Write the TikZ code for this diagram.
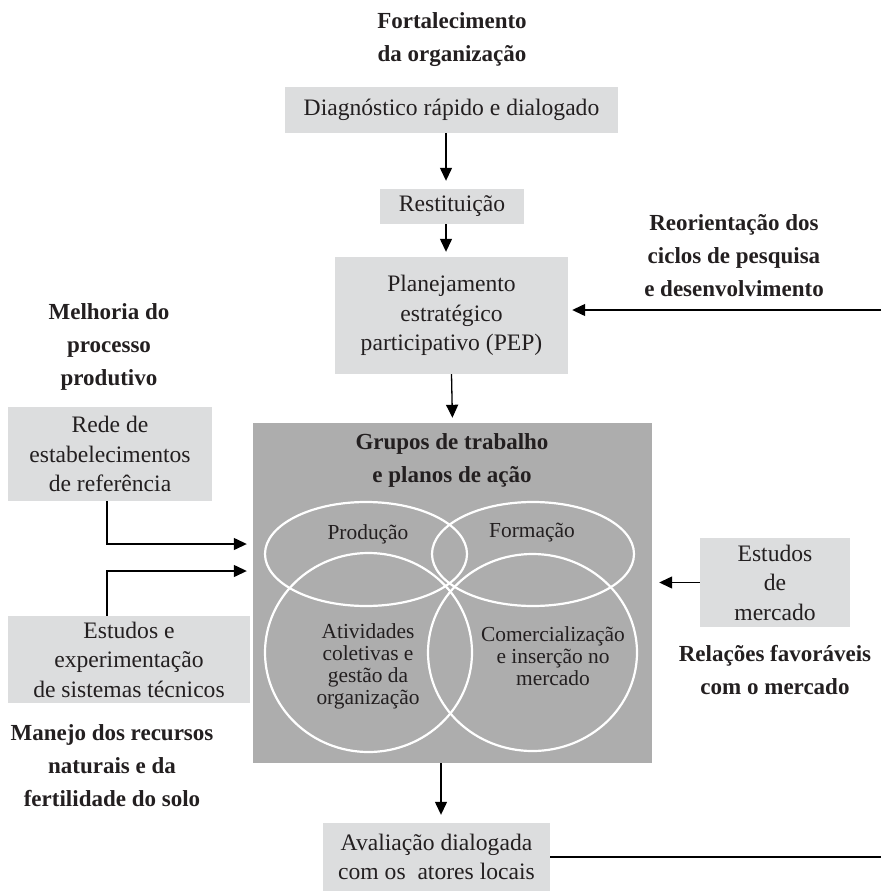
\documentclass[tikz,border=0pt]{standalone}
\usepackage{fontspec}
\setmainfont{Liberation Serif}
\usetikzlibrary{arrows.meta}
\definecolor{lightbox}{HTML}{DCDDDE}
\definecolor{darkbox}{HTML}{ADADAD}
\definecolor{ink}{HTML}{231F20}
\begin{document}
\begin{tikzpicture}[x=1pt,y=-1pt,
  every node/.style={text=ink},
  box/.style={fill=lightbox, inner sep=0pt, align=center, font=\fontsize{23.6}{29.5}\selectfont},
  heading/.style={align=center, inner sep=0pt, font=\fontsize{23}{33}\selectfont\bfseries},
  innertext/.style={align=center, inner sep=0pt, font=\fontsize{21.4}{22}\selectfont},
  conn/.style={draw=black, line width=1.3pt},
  arr/.style={conn, -{Triangle[length=13pt,width=12pt]}},
  ring/.style={draw=white, line width=2.2pt}
]
\useasboundingbox (0,0) rectangle (881,891);

% headings
\node[heading] (fort) at (452,40) {Fortalecimento\\da organização};
\node[heading] (reor) at (734,256) {Reorientação dos\\ciclos de pesquisa\\e desenvolvimento};
\node[heading] (melh) at (109,347) {Melhoria do\\processo\\produtivo};
\node[heading] (manejo) at (112,766) {Manejo dos recursos\\naturais e da\\fertilidade do solo};
\node[heading] (relac) at (775,670) {Relações favoráveis\\com o mercado};

% boxes
\node[box, minimum width=333pt, minimum height=46pt] (diag) at (451.5,110) {Diagnóstico rápido e dialogado};
\node[box, minimum width=144pt, minimum height=35pt] (rest) at (452,206.5) {Restituição};
\node[box, minimum width=233pt, minimum height=117pt] (plan) at (451.5,315.5) {Planejamento\\estratégico\\participativo (PEP)};
\node[fill=darkbox, inner sep=0pt, minimum width=399pt, minimum height=340pt] (grupos) at (452.5,593) {};
\node[box, minimum width=204pt, minimum height=94pt] (rede) at (110,454) {Rede de\\estabelecimentos\\de referência};
\node[box, minimum width=242pt, minimum height=87pt] (estudos) at (129,659.5) {Estudos e\\experimentação\\de sistemas técnicos};
\node[box, minimum width=150pt, minimum height=89pt] (merc) at (775,582.5) {Estudos\\de\\mercado};
\node[box, minimum width=227pt, minimum height=68pt] (aval) at (436.5,857) {Avaliação dialogada\\com os\ \ atores locais};

% inside the big box
\node[heading] (gtitle) at (452,460) {Grupos de trabalho\\e planos de ação};
\draw[ring] (366,554) ellipse [x radius=101pt, y radius=52pt];
\draw[ring] (533,554) ellipse [x radius=101pt, y radius=52pt];
\draw[ring] (368.5,652.5) ellipse [x radius=103.5pt, y radius=99.5pt];
\draw[ring] (532.5,652.5) ellipse [x radius=104.5pt, y radius=98.5pt];
\node[innertext] (prod) at (368,534) {Produção};
\node[innertext] (form) at (532,533) {Formação};
\node[innertext] (ativ) at (368,666) {Atividades\\coletivas e\\gestão da\\organização};
\node[innertext] (comer) at (553,656) {Comercialização\\e inserção no\\mercado};

% connectors
\coordinate (rin) at (881,310);
\coordinate (ra) at (0,544);
\coordinate (rb) at (0,571);
\coordinate (rend) at (881,857);
\draw[arr, shorten >=8pt] (diag.south -| 446,0) -- (rest.north -| 446,0);
\draw[arr, shorten >=5pt] (rest.south -| 446,0) -- (plan.north -| 446,0);
\draw[arr, shorten >=5pt] (plan.south) -- (grupos.north);
\draw[arr, shorten >=4pt] (rin) -- (plan.east |- rin);
\draw[arr, shorten >=6pt] (rede.south -| 107,0) |- (grupos.west |- ra);
\draw[arr, shorten >=6pt] (estudos.north -| 107,0) |- (grupos.west |- rb);
\draw[arr, shorten >=7pt] (merc.west) -- (grupos.east |- merc.west);
\draw[arr, shorten >=8pt] (grupos.south -| 441,0) -- (aval.north -| 441,0);
\draw[conn] (aval.east |- rend) -- (rend);
\end{tikzpicture}
\end{document}
